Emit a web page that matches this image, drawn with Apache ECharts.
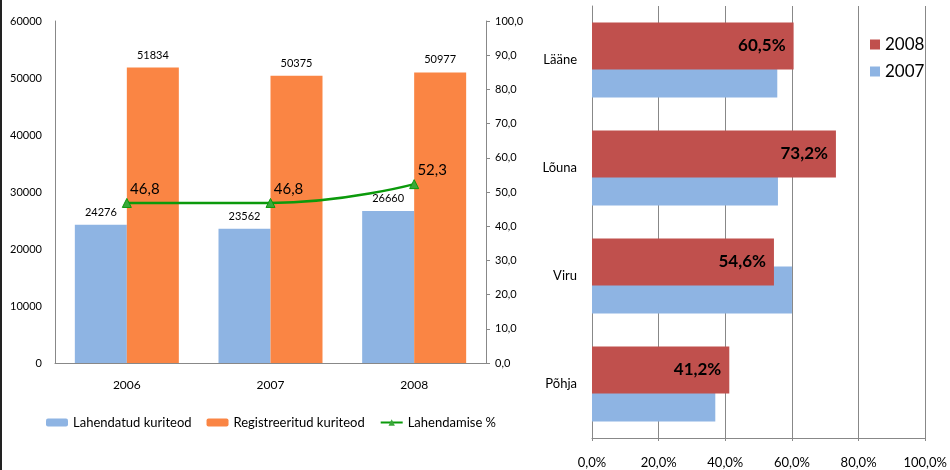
<!DOCTYPE html>
<html>
<head>
<meta charset="utf-8">
<script src="https://cdn.jsdelivr.net/npm/echarts@6/dist/echarts.min.js"></script>
<style>
  html, body { margin: 0; padding: 0; background: #fff; }
  #chart { width: 948px; height: 470px; border-left: 2px solid #222; }
</style>
</head>
<body>
<div id="chart"></div>
<script>
// vasak joonis: kuriteod aastate kaupa
const years = ['2006', '2007', '2008'];
const solved = [24276, 23562, 26660];
const registered = [51834, 50375, 50977];
const solvedPct = [46.8, 46.8, 52.3];

// parem joonis: lahendamise % piirkonniti
const regions = ['Põhja', 'Viru', 'Lõuna', 'Lääne'];
const pct2007 = [37.0, 60.0, 55.8, 55.6];
const pct2008 = [41.2, 54.6, 73.2, 60.5];

const font = 'Lato, "Liberation Sans", sans-serif';
const comma = (v, d) => v.toFixed(d).replace('.', ',');

const chart = echarts.init(document.getElementById('chart'));

const options = {
  animation: false,
  textStyle: { fontFamily: font, color: '#000' },
  grid: [
    { left: 53, right: 464, top: 21, bottom: 107 },
    { left: 590, right: 22, top: 6, bottom: 32 }
  ],
  legend: [
    {
      data: ['Lahendatud kuriteod', 'Registreeritud kuriteod', 'Lahendamise %'],
      left: 39, top: 411,
      itemWidth: 22, itemHeight: 8, itemGap: 15, itemStyle: { borderWidth: 0 },
      textStyle: { fontSize: 13, color: '#000', fontFamily: font }
    },
    {
      data: ['2008', '2007'],
      orient: 'vertical',
      left: 863, top: 31,
      icon: 'rect', itemWidth: 10, itemHeight: 10, itemGap: 10,
      textStyle: { fontSize: 17, color: '#000', fontFamily: font }
    }
  ],
  xAxis: [
    {
      type: 'category', gridIndex: 0, data: years,
      axisLine: { lineStyle: { color: '#888' } },
      axisTick: { show: false },
      axisLabel: { fontSize: 12, color: '#000', margin: 16 }
    },
    {
      type: 'value', gridIndex: 1, min: 0, max: 100, interval: 20,
      axisLine: { show: true, lineStyle: { color: '#888' } },
      axisTick: { show: true, length: 3, lineStyle: { color: '#888' } },
      splitLine: { lineStyle: { color: '#888' } },
      axisLabel: { fontSize: 13, color: '#000', margin: 18, formatter: v => comma(v, 1) + '%' }
    }
  ],
  yAxis: [
    {
      type: 'value', gridIndex: 0, min: 0, max: 60000, interval: 10000,
      axisLine: { show: true, lineStyle: { color: '#888' } },
      axisTick: { show: false },
      splitLine: { show: false },
      axisLabel: { fontSize: 11, color: '#000', margin: 13, formatter: v => String(v) }
    },
    {
      type: 'value', gridIndex: 0, position: 'right', min: 0, max: 100, interval: 10,
      axisLine: { show: true, lineStyle: { color: '#888' } },
      axisTick: { show: true, length: 4, lineStyle: { color: '#888' } },
      splitLine: { show: false },
      axisLabel: { fontSize: 11, color: '#000', margin: 9, formatter: v => comma(v, 1) }
    },
    {
      type: 'category', gridIndex: 1, data: regions,
      axisLine: { show: true, lineStyle: { color: '#888' } },
      axisTick: { show: false },
      axisLabel: { fontSize: 13, color: '#000', margin: 15 }
    }
  ],
  series: [
    {
      name: 'Lahendatud kuriteod', type: 'bar', xAxisIndex: 0, yAxisIndex: 0,
      data: solved, barWidth: 52, barGap: '0%',
      itemStyle: { color: '#8eb4e3' },
      label: { show: true, position: 'top', distance: 7, fontSize: 11, color: '#000' }
    },
    {
      name: 'Registreeritud kuriteod', type: 'bar', xAxisIndex: 0, yAxisIndex: 0,
      data: registered, barWidth: 52, barGap: '0%',
      itemStyle: { color: '#fa8544' },
      label: { show: true, position: 'top', distance: 7, fontSize: 11, color: '#000' }
    },
    {
      name: 'Lahendamise %', type: 'line', xAxisIndex: 0, yAxisIndex: 1,
      data: solvedPct, smooth: true,
      symbol: 'triangle', symbolSize: 9,
      lineStyle: { color: '#0b9a0b', width: 2.5 },
      itemStyle: { color: '#3aa83a', borderColor: '#0b9a0b', borderWidth: 1 },
      label: {
        show: true, position: 'top', offset: [18, 4], fontSize: 15, color: '#000',
        formatter: p => comma(p.value, 1)
      },
      z: 5
    },
    {
      name: '2008', type: 'bar', xAxisIndex: 1, yAxisIndex: 2,
      data: pct2008, barWidth: 47, barGap: '-40%',
      itemStyle: { color: '#c0504d' },
      label: {
        show: true, position: 'insideRight', distance: 8,
        fontSize: 17, fontWeight: 'bold', color: '#000',
        formatter: p => comma(p.value, 1) + '%'
      },
      z: 3
    },
    {
      name: '2007', type: 'bar', xAxisIndex: 1, yAxisIndex: 2,
      data: pct2007, barWidth: 47, barGap: '-40%',
      itemStyle: { color: '#8eb4e3' }
    }
  ]
};

chart.setOption(options);
</script>
</body>
</html>
